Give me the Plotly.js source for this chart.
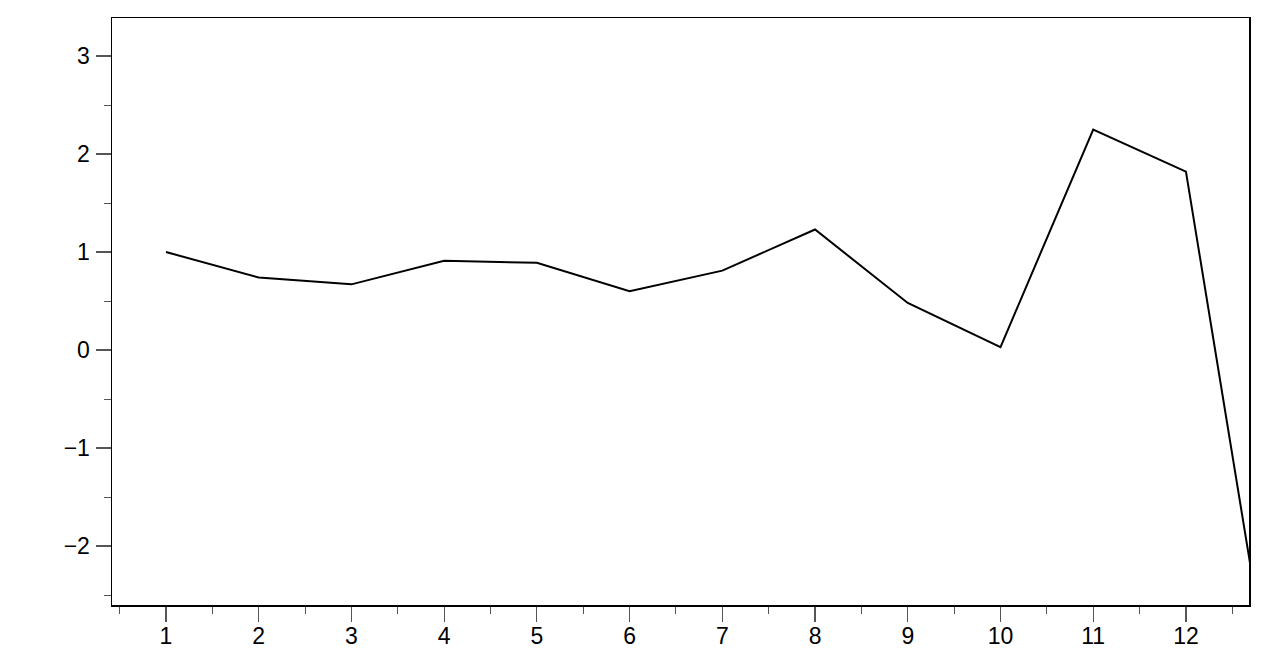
<!DOCTYPE html>
<html>
<head>
<meta charset="utf-8">
<script src="https://cdn.plot.ly/plotly-3.0.1.min.js"></script>
<style>html,body{margin:0;padding:0;background:#fff;}#chart{width:1280px;height:658px;}</style>
</head>
<body>
<div id="chart"></div>
<script>
const xValues = [1, 2, 3, 4, 5, 6, 7, 8, 9, 10, 11, 12, 13];
const yValues = [1.0, 0.74, 0.67, 0.91, 0.89, 0.6, 0.81, 1.23, 0.48, 0.03, 2.25, 1.82, -3.96];
const xTickVals = [1, 2, 3, 4, 5, 6, 7, 8, 9, 10, 11, 12];
const yTickVals = [-2, -1, 0, 1, 2, 3];
const yTickText = ['\u22122', '\u22121', '0', '1', '2', '3'];

const trace = {
  x: xValues, y: yValues, type: 'scatter', mode: 'lines',
  line: {color: '#000', width: 2}, hoverinfo: 'none'
};
const fam = 'Liberation Sans';
const layout = {
  width: 1280, height: 658,
  margin: {l: 112, r: 31, t: 18, b: 53},
  paper_bgcolor: '#fff', plot_bgcolor: '#fff',
  showlegend: false,
  font: {family: fam, size: 23, color: '#000'},
  xaxis: {
    range: [0.418, 12.68], tickmode: 'array', tickvals: xTickVals, ticktext: xTickVals.map(String),
    ticks: 'outside', ticklen: 15, tickwidth: 1.2, tickcolor: '#555',
    showgrid: false, zeroline: false, showline: true, linecolor: '#000', linewidth: 1.5,
    mirror: true, tickfont: {family: fam, size: 23, color: '#000'}, ticklabelstandoff: -5,
    minor: {dtick: 0.5, tick0: 0.5, ticks: 'outside', ticklen: 7, tickcolor: '#555', tickwidth: 1, showgrid: false}
  },
  yaxis: {
    range: [-2.602, 3.388], tickmode: 'array', tickvals: yTickVals, ticktext: yTickText,
    ticks: 'outside', ticklen: 15, tickwidth: 1.2, tickcolor: '#555',
    showgrid: false, zeroline: false, showline: true, linecolor: '#000', linewidth: 1.5,
    mirror: true, tickfont: {family: fam, size: 23, color: '#000'}, ticklabelstandoff: 1,
    minor: {dtick: 0.5, tick0: 0.5, ticks: 'outside', ticklen: 7, tickcolor: '#555', tickwidth: 1, showgrid: false}
  }
};
Plotly.newPlot('chart', [trace], layout, {staticPlot: true, displayModeBar: false});
</script>
</body>
</html>
